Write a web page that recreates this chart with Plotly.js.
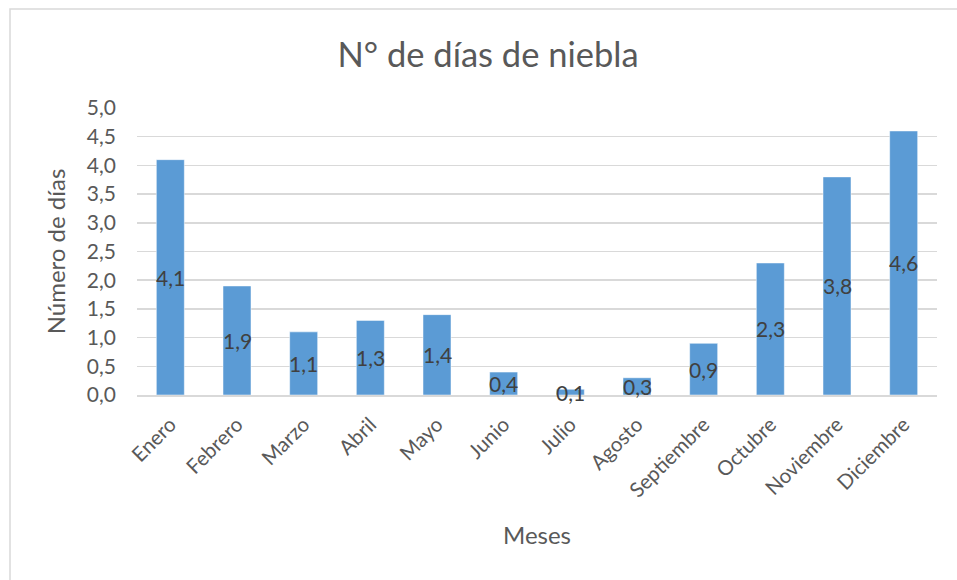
<!DOCTYPE html>
<html>
<head>
<meta charset="utf-8">
<script src="https://cdn.plot.ly/plotly-3.0.1.min.js"></script>
<style>html,body{margin:0;padding:0;background:#fff;}#chart{width:957px;height:580px;}</style>
</head>
<body>
<div id="chart"></div>
<script>
const months = ["Enero","Febrero","Marzo","Abril","Mayo","Junio","Julio","Agosto","Septiembre","Octubre","Noviembre","Diciembre"];
const fogDays = [4.1,1.9,1.1,1.3,1.4,0.4,0.1,0.3,0.9,2.3,3.8,4.6];
const yTicks = [0,0.5,1,1.5,2,2.5,3,3.5,4,4.5,5];

const fmt = v => v.toFixed(1).replace('.', ',');

const trace = {
  type: 'bar',
  x: months,
  y: fogDays,
  marker: {color: '#5b9bd5', line: {color: '#ffffff', width: 0.5}},
  hoverinfo: 'x+y'
};

const annotations = months.map((m, i) => ({
  x: m, y: fogDays[i] / 2, xref: 'x', yref: 'y',
  text: fmt(fogDays[i]), showarrow: false,
  font: {family: 'Lato, "Open Sans", sans-serif', size: 21, color: '#404040'}
}));

const layout = {
  width: 957, height: 580,
  margin: {l: 137, r: 20, t: 108, b: 185},
  paper_bgcolor: '#ffffff', plot_bgcolor: '#ffffff',
  separators: ', ',
  bargap: 0.58,
  showlegend: false,
  font: {family: 'Lato, "Open Sans", sans-serif', color: '#595959'},
  title: {text: 'N° de días de niebla', x: 0.51, xanchor: 'center', y: 0.905, yanchor: 'middle',
          font: {size: 34.5, color: '#595959'}},
  xaxis: {
    type: 'category', tickangle: -45, tickfont: {size: 20.5, color: '#595959'},
    showgrid: false, showline: true, linecolor: '#d9d9d9', linewidth: 1.5, ticks: '',
    ticklabelstandoff: 8,
    title: {text: 'Meses', font: {size: 24, color: '#595959'}, standoff: 26},
    automargin: false, fixedrange: true
  },
  yaxis: {
    range: [0, 5], tickvals: yTicks, ticktext: yTicks.map(fmt),
    tickfont: {size: 21, color: '#595959'},
    showgrid: true, gridcolor: '#d9d9d9', gridwidth: 1.5, zeroline: false,
    ticks: '', ticklabelstandoff: 20,
    title: {text: 'Número de días', font: {size: 24, color: '#595959'}, standoff: 14},
    automargin: false, fixedrange: true
  },
  annotations: annotations,
  shapes: [{
    type: 'rect', xref: 'paper', yref: 'paper',
    x0: (10 - 137) / 800, x1: (970 - 137) / 800,
    y0: (395 - 600) / 287, y1: (395 - 9) / 287,
    line: {color: '#d9d9d9', width: 1.5}, fillcolor: 'rgba(0,0,0,0)', layer: 'below'
  }]
};

Plotly.newPlot('chart', [trace], layout, {displayModeBar: false, staticPlot: true});
</script>
</body>
</html>
